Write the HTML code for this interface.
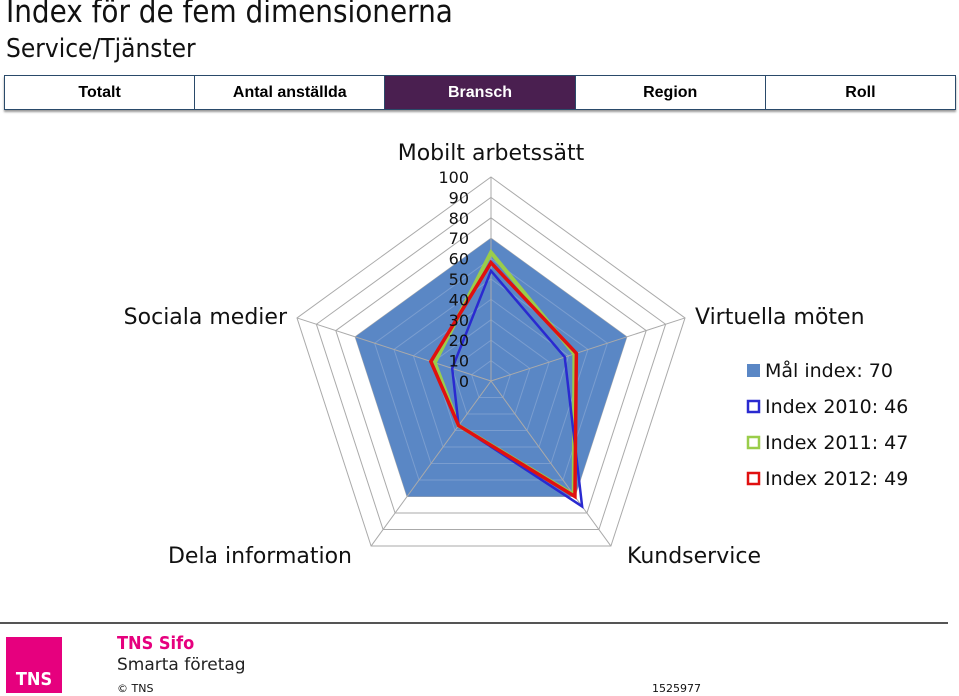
<!DOCTYPE html>
<html><head><meta charset="utf-8"><style>
body{margin:0;width:959px;height:696px;background:#fff;position:relative;overflow:hidden;font-family:"DejaVu Sans",sans-serif}
.t{position:absolute;white-space:nowrap;color:#111}
.tabs{position:absolute;left:4px;top:75px;width:950px;height:33px;display:flex;border:1px solid #2a4a6a;box-shadow:0 2px 2px #999}
.tab{flex:1;border-right:1px solid #2a4a6a;font:bold 16px "Liberation Sans",sans-serif;display:flex;align-items:center;justify-content:center;color:#000}
.tab:last-child{border-right:none}
.tab.on{background:#4a1f50;color:#fff}
</style></head><body>
<div class="t" style="left:6px;top:-6px;font:31px 'DejaVu Sans Condensed','DejaVu Sans',sans-serif">Index för de fem dimensionerna</div>
<div class="t" style="left:6px;top:34px;font:26px 'DejaVu Sans Condensed','DejaVu Sans',sans-serif">Service/Tjänster</div>
<div class="tabs">
<div class="tab">Totalt</div>
<div class="tab">Antal anställda</div>
<div class="tab on">Bransch</div>
<div class="tab">Region</div>
<div class="tab">Roll</div>
</div>
<svg id="chart" width="959" height="696" style="position:absolute;left:0;top:0"></svg>
<div style="position:absolute;left:0;top:622px;width:948px;height:2px;background:#555"></div>
<div style="position:absolute;left:6px;top:637px;width:56px;height:56px;background:#e6007e;color:#fff;font:bold 18px 'DejaVu Sans Condensed',sans-serif;display:flex;align-items:flex-end;justify-content:center;padding-bottom:0;box-sizing:border-box;padding-bottom:3px">TNS</div>
<div class="t" style="left:117px;top:633px;font:bold 18px 'DejaVu Sans Condensed',sans-serif;color:#e6007e">TNS Sifo</div>
<div class="t" style="left:117px;top:655px;font:17px 'DejaVu Sans',sans-serif;color:#222">Smarta företag</div>
<div class="t" style="left:117px;top:682px;font:11px 'DejaVu Sans',sans-serif">© TNS</div>
<div class="t" style="left:652px;top:682px;font:11px 'DejaVu Sans',sans-serif">1525977</div>
<script>
const categories=["Mobilt arbetssätt","Virtuella möten","Kundservice","Dela information","Sociala medier"];
const target=[70,70,70,70,70];
const s2010=[54,38,76,27,20];
const s2011=[63,43,69,27,29];
const s2012=[58,44,70,27,31];
const ticks=[0,10,20,30,40,50,60,70,80,90,100];
const svg=document.getElementById('chart');const NS='http://www.w3.org/2000/svg';
const cx=491,cy=381,R=204,maxV=100;
function pt(i,v){const a=-Math.PI/2+i*2*Math.PI/5;const r=v/maxV*R;return [cx+r*Math.cos(a),cy+r*Math.sin(a)];}
function poly(vals){return vals.map((v,i)=>pt(i,v).join(',')).join(' ');}
function mk(tag,attrs){const e=document.createElementNS(NS,tag);for(const k in attrs)e.setAttribute(k,attrs[k]);svg.appendChild(e);return e;}
ticks.slice(1).forEach(t=>{const g=mk('polygon',{points:poly([t,t,t,t,t]),fill:'none',stroke:'#aaa','stroke-width':1});

});
const f=mk('polygon',{points:poly(target),fill:'#5a87c5'});


ticks.slice(1).forEach(t=>{if(t<70){const g=mk('polygon',{points:poly([t,t,t,t,t]),fill:'none',stroke:'#7a9dcf','stroke-width':1});

}});
for(let i=0;i<5;i++){const p=pt(i,100);const l=mk('line',{x1:cx,y1:cy,x2:p[0],y2:p[1],stroke:'#aaa','stroke-width':1});

}
const series=[[s2011,'#9acd4a',4,'series-2011'],[s2010,'#2a2ad0',2.5,'series-2010'],[s2012,'#e01010',3.5,'series-2012']];
series.forEach(s=>{const e=mk('polygon',{points:poly(s[0]),fill:'none',stroke:s[1],'stroke-width':s[2],'stroke-linejoin':'miter'});

});
ticks.forEach(t=>{const e=mk('text',{x:469,y:cy-t/maxV*R+6,'text-anchor':'end','font-size':16,'font-family':'DejaVu Sans,sans-serif',fill:'#111'});e.textContent=t;

});
const lp=[[491,160,'middle'],[695,324,'start'],[694,563,'middle'],[260,563,'middle'],[287,324,'end']];
categories.forEach((c,i)=>{const e=mk('text',{x:lp[i][0],y:lp[i][1],'text-anchor':lp[i][2],'font-size':22,'font-family':'DejaVu Sans,sans-serif',fill:'#111'});e.textContent=c;

});
const leg=[['Mål index: 70','#5a87c5',true],['Index 2010: 46','#2a2ad0',false],['Index 2011: 47','#9acd4a',false],['Index 2012: 49','#e01010',false]];
leg.forEach((l,i)=>{const y=370+i*36;
const r=l[2]?mk('rect',{x:747,y:y-6,width:13,height:13,fill:l[1]}):mk('rect',{x:748,y:y-5,width:11,height:11,fill:'none',stroke:l[1],'stroke-width':2.5});


const t=mk('text',{x:765,y:y+7,'font-size':19,'font-family':'DejaVu Sans,sans-serif',fill:'#111'});t.textContent=l[0];

});
</script>
</body></html>
